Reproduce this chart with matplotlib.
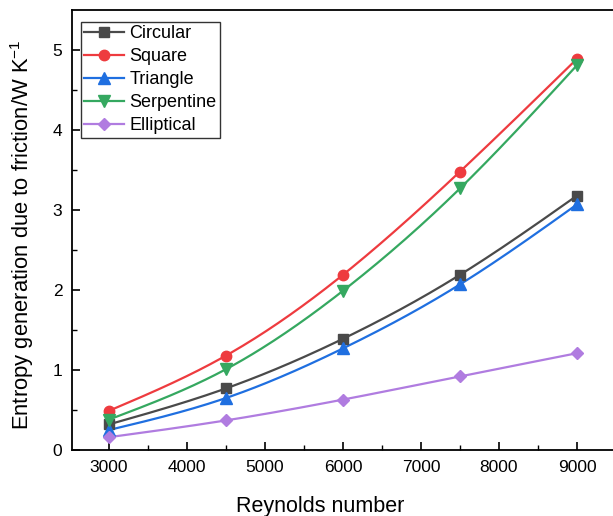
import numpy as np
import matplotlib
matplotlib.use("Agg")
import matplotlib.pyplot as plt

plt.rcParams['font.family'] = ['Liberation Sans', 'DejaVu Sans']
plt.rcParams['mathtext.fontset'] = 'custom'
plt.rcParams['mathtext.rm'] = 'Liberation Sans'
plt.rcParams['mathtext.it'] = 'Liberation Sans'
plt.rcParams['mathtext.default'] = 'regular'

reynolds = [3000, 4500, 6000, 7500, 9000]
circular = [0.32, 0.77, 1.39, 2.19, 3.18]
square = [0.49, 1.18, 2.19, 3.48, 4.89]
triangle = [0.25, 0.65, 1.27, 2.07, 3.07]
serpentine = [0.38, 1.01, 1.99, 3.27, 4.81]
elliptical = [0.16, 0.37, 0.63, 0.92, 1.21]
labels = ["Circular", "Square", "Triangle", "Serpentine", "Elliptical"]
xticks = [3000, 4000, 5000, 6000, 7000, 8000, 9000]
yticks = [0, 1, 2, 3, 4, 5]


def natural_spline(x, y, n=200):
    x = np.asarray(x, float)
    y = np.asarray(y, float)
    k = len(x)
    h = np.diff(x)
    A = np.zeros((k, k))
    b = np.zeros(k)
    A[0, 0] = 1
    A[-1, -1] = 1
    for i in range(1, k - 1):
        A[i, i - 1] = h[i - 1]
        A[i, i] = 2 * (h[i - 1] + h[i])
        A[i, i + 1] = h[i]
        b[i] = 6 * ((y[i + 1] - y[i]) / h[i] - (y[i] - y[i - 1]) / h[i - 1])
    M = np.linalg.solve(A, b)
    xs = np.linspace(x[0], x[-1], n)
    ys = np.empty_like(xs)
    for j, xv in enumerate(xs):
        i = min(np.searchsorted(x, xv, side='right') - 1, k - 2)
        t1 = x[i + 1] - xv
        t0 = xv - x[i]
        ys[j] = (M[i] * t1 ** 3 + M[i + 1] * t0 ** 3) / (6 * h[i]) \
            + (y[i] / h[i] - M[i] * h[i] / 6) * t1 \
            + (y[i + 1] / h[i] - M[i + 1] * h[i] / 6) * t0
    return xs, ys


series = [circular, square, triangle, serpentine, elliptical]
colors = ["#4a4a4a", "#ee3b3f", "#1f6fe0", "#35a860", "#b07ce0"]
markers = ["s", "o", "^", "v", "D"]
msizes = [6.8, 7.5, 8, 8, 6.3]

fig = plt.figure(figsize=(6.13, 5.16), dpi=100)
ax = fig.add_axes([72 / 613, 66 / 516, 544 / 613, 440 / 516])

for vals, c, m, ms, lab in zip(series, colors, markers, msizes, labels):
    xs, ys = natural_spline(reynolds, vals)
    ax.plot(xs, ys, color=c, lw=1.6, zorder=2)
    ax.plot(reynolds, vals, linestyle='none', marker=m, ms=ms, color=c, zorder=3)
    ax.plot([], [], color=c, lw=1.6, marker=m, ms=ms, label=lab)

ax.set_xlim(2526, 9500)
ax.set_ylim(0, 5.5)
ax.set_xticks(xticks)
ax.set_yticks(yticks)
ax.set_xticks(np.arange(3500, 9500, 1000), minor=True)
ax.set_yticks(np.arange(0.5, 5.5, 1.0), minor=True)
ax.tick_params(which='major', direction='in', length=6, width=1.2, labelsize=12.5, pad=7)
ax.tick_params(which='minor', direction='in', length=3.5, width=1.0)
for s in ax.spines.values():
    s.set_linewidth(1.3)
ax.spines['right'].set_visible(False)

ax.set_xlabel("Reynolds number", fontsize=15.5, labelpad=11)
ax.xaxis.set_label_coords(248 / 544, -0.105)
ax.set_ylabel("Entropy generation due to friction/W K$^{\u22121}$", fontsize=15.8)
ax.yaxis.set_label_coords(-0.066, 0.489)

leg = ax.legend(loc='upper left', bbox_to_anchor=(0.016, 0.973), fontsize=13,
                frameon=True, fancybox=False, edgecolor='black', handlelength=2.2,
                handletextpad=0.3, borderpad=0.2, labelspacing=0.33, borderaxespad=0)
leg.get_frame().set_linewidth(1.0)

fig.savefig("out.png", dpi=100)
